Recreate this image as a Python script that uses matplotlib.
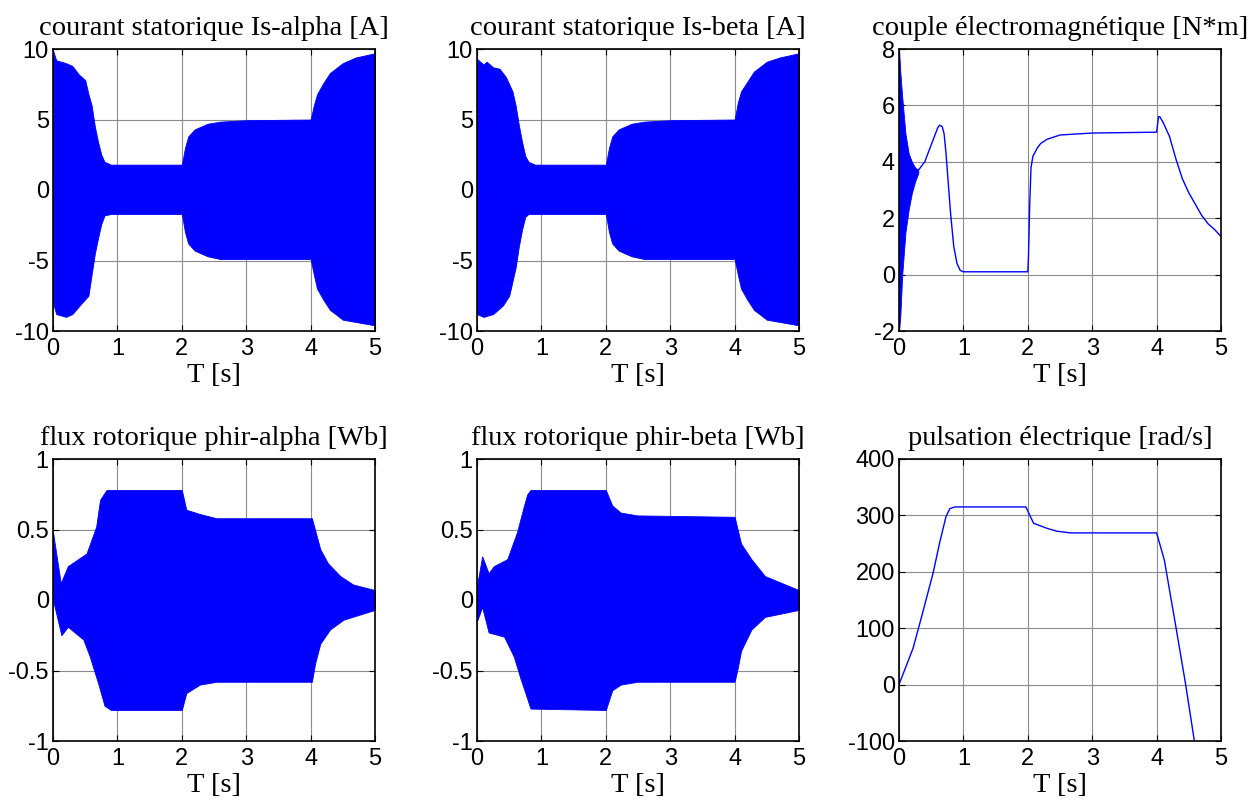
import matplotlib
matplotlib.use("Agg")
import numpy as np
from matplotlib import pyplot as plt

# stator current alpha: envelope
isa_t_up = [0, 0.05, 0.2, 0.3, 0.4, 0.5, 0.55, 0.6, 0.65, 0.7, 0.75, 0.8, 0.9,
            2.0, 2.05, 2.1, 2.2, 2.4, 2.6, 3.0, 4.0, 4.05, 4.1, 4.2, 4.3, 4.5,
            4.7, 5.0]
isa_up = [9.9, 9.2, 9.0, 8.8, 8.2, 7.8, 6.8, 6.0, 4.5, 3.4, 2.5, 2.0, 1.8,
          1.8, 3.0, 3.8, 4.3, 4.7, 4.85, 4.95, 5.0, 6.0, 6.8, 7.6, 8.3, 9.0,
          9.4, 9.7]
isa_t_lo = [0, 0.05, 0.2, 0.3, 0.45, 0.55, 0.6, 0.65, 0.7, 0.75, 0.8, 0.9,
            2.0, 2.05, 2.1, 2.2, 2.4, 2.6, 4.0, 4.05, 4.1, 4.2, 4.3, 4.5, 5.0]
isa_lo = [-8.0, -8.8, -9.0, -8.8, -8.0, -7.5, -6.0, -4.5, -3.4, -2.4, -1.8,
          -1.7, -1.7, -3.0, -3.8, -4.3, -4.7, -4.9, -4.9, -6.0, -7.0, -7.8,
          -8.5, -9.2, -9.6]

# stator current beta
isb_t_up = [0, 0.1, 0.15, 0.25, 0.35, 0.45, 0.55, 0.6, 0.65, 0.7, 0.75, 0.8,
            0.9, 2.0, 2.05, 2.1, 2.2, 2.4, 2.6, 3.0, 4.0, 4.05, 4.1, 4.2, 4.3,
            4.5, 4.7, 5.0]
isb_up = [9.3, 8.9, 9.1, 8.7, 8.6, 8.0, 7.0, 6.0, 4.6, 3.4, 2.4, 2.0, 1.8,
          1.8, 3.0, 3.8, 4.3, 4.7, 4.85, 4.95, 5.0, 6.2, 7.0, 7.7, 8.4, 9.1,
          9.4, 9.7]
isb_t_lo = [0, 0.1, 0.25, 0.4, 0.5, 0.6, 0.65, 0.7, 0.75, 0.8, 0.9, 2.0, 2.05,
            2.1, 2.2, 2.4, 2.6, 4.0, 4.05, 4.1, 4.2, 4.3, 4.5, 5.0]
isb_lo = [-8.8, -9.0, -8.8, -8.2, -7.5, -5.5, -4.0, -2.8, -1.9, -1.7, -1.7,
          -1.7, -3.0, -3.8, -4.3, -4.7, -4.9, -4.9, -6.0, -7.0, -7.8, -8.5,
          -9.2, -9.6]

# electromagnetic torque
te_osc_t = [0, 0.02, 0.05, 0.1, 0.15, 0.2, 0.25, 0.3]
te_osc_up = [8.0, 7.2, 6.3, 5.0, 4.3, 4.0, 3.8, 3.7]
te_osc_lo = [-2.0, -1.5, 0.0, 1.5, 2.3, 2.9, 3.3, 3.6]
te_t = [0.3, 0.4, 0.5, 0.55, 0.6, 0.63, 0.67, 0.7, 0.73, 0.76, 0.8, 0.85,
        0.9, 0.95, 1.0, 2.0, 2.01, 2.03, 2.05, 2.08, 2.15, 2.2, 2.3, 2.5, 3.0,
        4.0, 4.03, 4.05, 4.1, 4.2, 4.3, 4.4, 4.5, 4.6, 4.7, 4.8, 4.9, 5.0]
te = [3.7, 4.0, 4.6, 4.9, 5.2, 5.3, 5.25, 5.0, 4.3, 3.4, 2.2, 1.0, 0.4,
      0.15, 0.1, 0.1, 0.6, 2.5, 3.8, 4.2, 4.5, 4.65, 4.8, 4.95, 5.02, 5.05,
      5.6, 5.6, 5.4, 4.9, 4.1, 3.4, 2.9, 2.5, 2.1, 1.8, 1.6, 1.35]

# rotor flux alpha
fa_t_up = [0, 0.12, 0.23, 0.52, 0.67, 0.73, 0.83, 2.0, 2.07, 2.28, 2.54,
           4.02, 4.15, 4.27, 4.46, 4.66, 5.0]
fa_up = [0.48, 0.12, 0.24, 0.33, 0.52, 0.71, 0.78, 0.78, 0.64, 0.61, 0.58,
         0.58, 0.36, 0.26, 0.17, 0.11, 0.07]
fa_t_lo = [0, 0.13, 0.23, 0.47, 0.57, 0.7, 0.8, 0.9, 2.0, 2.07, 2.28, 2.54,
           4.02, 4.07, 4.15, 4.3, 4.51, 5.0]
fa_lo = [0.0, -0.25, -0.19, -0.28, -0.40, -0.59, -0.75, -0.78, -0.78, -0.66,
         -0.60, -0.58, -0.58, -0.45, -0.31, -0.21, -0.14, -0.07]

# rotor flux beta
fb_t_up = [0, 0.08, 0.18, 0.26, 0.47, 0.62, 0.73, 0.78, 0.83, 2.0, 2.1, 2.23,
           2.49, 4.0, 4.1, 4.26, 4.47, 5.0]
fb_up = [0.1, 0.31, 0.19, 0.24, 0.29, 0.48, 0.67, 0.75, 0.78, 0.78, 0.67,
         0.62, 0.6, 0.59, 0.40, 0.29, 0.17, 0.07]
fb_t_lo = [0, 0.08, 0.18, 0.42, 0.57, 0.67, 0.78, 0.83, 2.0, 2.1, 2.23, 2.49,
           4.0, 4.05, 4.1, 4.26, 4.47, 5.0]
fb_lo = [-0.15, -0.05, -0.23, -0.26, -0.40, -0.55, -0.70, -0.77, -0.78,
         -0.64, -0.60, -0.58, -0.58, -0.48, -0.36, -0.21, -0.12, -0.07]

# electrical pulsation
w_t = [0, 0.22, 0.35, 0.53, 0.63, 0.73, 0.79, 0.87, 1.97, 2.04, 2.09, 2.3,
       2.45, 2.66, 4.0, 4.12, 4.3, 4.45, 4.6]
w = [0, 65, 120, 198, 251, 298, 312, 315, 315, 298, 286, 277, 272, 269, 269,
     221, 102, 1, -110]

titles = [
    "courant statorique Is-alpha [A]", "courant statorique Is-beta [A]",
    "couple électromagnétique [N*m]", "flux rotorique phir-alpha [Wb]",
    "flux rotorique phir-beta [Wb]", "pulsation électrique [rad/s]"]
yticks = [[-10, -5, 0, 5, 10], [-10, -5, 0, 5, 10], [-2, 0, 2, 4, 6, 8],
          [-1, -0.5, 0, 0.5, 1], [-1, -0.5, 0, 0.5, 1],
          [-100, 0, 100, 200, 300, 400]]

BLUE = "#0000FF"
fig = plt.figure(figsize=(12.55, 8.07), dpi=100)
lefts = [53 / 1255, 477 / 1255, 899 / 1255]
bottoms = [1 - 331 / 807, 1 - 741 / 807]
w_ax, h_ax = 322 / 1255, 282 / 807

axes = []
for r in range(2):
    for c in range(3):
        axes.append(fig.add_axes([lefts[c], bottoms[r], w_ax, h_ax]))


def envelope(ax, t_up, up, t_lo, lo):
    # merge both time grids so fill_between gets one x array
    t = np.union1d(t_up, t_lo)
    ax.fill_between(t, np.interp(t, t_lo, lo), np.interp(t, t_up, up),
                    color=BLUE, linewidth=0.6)


envelope(axes[0], isa_t_up, isa_up, isa_t_lo, isa_lo)
envelope(axes[1], isb_t_up, isb_up, isb_t_lo, isb_lo)
axes[2].fill_between(te_osc_t, te_osc_lo, te_osc_up, color=BLUE, linewidth=0.6)
axes[2].plot(te_t, te, color=BLUE, linewidth=1)
envelope(axes[3], fa_t_up, fa_up, fa_t_lo, fa_lo)
envelope(axes[4], fb_t_up, fb_up, fb_t_lo, fb_lo)
axes[5].plot(w_t, w, color=BLUE, linewidth=1)

for ax, title, yt in zip(axes, titles, yticks):
    ax.set_xlim(0, 5)
    ax.set_ylim(yt[0], yt[-1])
    ax.set_xticks(range(6))
    ax.set_yticks(yt)
    ax.set_yticklabels([f"{v:g}" for v in yt])
    ax.grid(True, color="#8c8c8c", linewidth=0.8)
    ax.set_axisbelow(True)
    ax.tick_params(direction="in", top=True, right=True, length=4,
                   labelsize=17, pad=3)
    ax.tick_params(axis="x", pad=5)
    for lbl in ax.get_xticklabels() + ax.get_yticklabels():
        lbl.set_family("Liberation Sans")
    for s in ax.spines.values():
        s.set_linewidth(1.2)
    ax.set_title(title, family="Liberation Serif", fontsize=20.5, pad=10)
    ax.set_xlabel("T [s]", family="Liberation Serif", fontsize=20.5,
                  labelpad=2)

fig.savefig("out.png", dpi=100)
